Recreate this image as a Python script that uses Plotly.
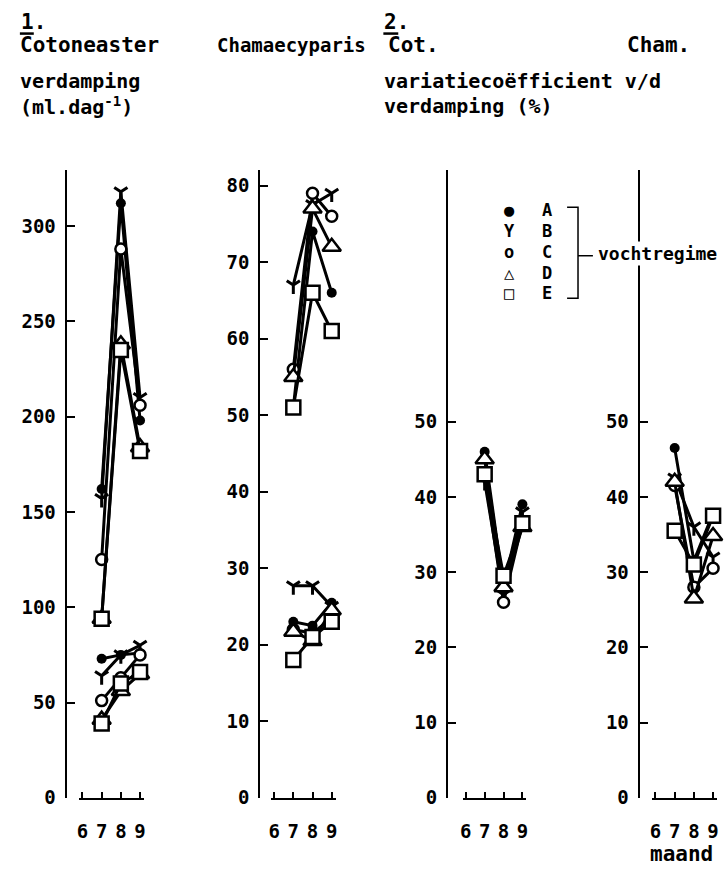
import plotly.graph_objects as go

W, H = 726, 871
months = [7, 8, 9]
series = ["A", "B", "C", "D", "E"]
month_ticks = [6, 7, 8, 9]

# 1. Cotoneaster: verdamping (ml.dag-1), two groups
cot_upper = [[162, 312, 198], [157, 318, 210], [125, 288, 206], [94, 238, 184], [94, 235, 182]]
cot_lower = [[73, 75, 76], [64, 75, 80], [51, 63, 75], [41, 56, 65], [39, 60, 66]]
# 1. Chamaecyparis
cham_upper = [[51, 74, 66], [67, 77.5, 79], [56, 79, 76], [55, 77, 72], [51, 66, 61]]
cham_lower = [[23, 22.5, 25.5], [27.7, 27.7, 25], [22, 21.5, 23.5], [21.7, 20.5, 24.5], [18, 21, 23]]
# 2. variatiecoefficient (%)
cot_cv = [[46, 28, 39], [42, 27, 38], [43, 26, 36.5], [45, 28, 36], [43, 29.5, 36.5]]
cham_cv = [[46.5, 31.5, 37.8], [42.5, 36, 32], [41.5, 28, 30.5], [42, 26.5, 34.8], [35.5, 31, 37.5]]

ticks_cot = [0, 50, 100, 150, 200, 250, 300]
ticks_cham = [0, 10, 20, 30, 40, 50, 60, 70, 80]
ticks_cv = [0, 10, 20, 30, 40, 50]

FONT = "DejaVu Sans Mono"
BLK = "black"

marker_styles = {
    "A": dict(symbol="circle", size=10, color=BLK, line=dict(width=0, color=BLK)),
    "B": dict(symbol="y-down", size=11, color=BLK, line=dict(width=3, color=BLK)),
    "C": dict(symbol="circle", size=11, color="white", line=dict(width=2.5, color=BLK)),
    "D": dict(symbol="triangle-up", size=16, color="white", line=dict(width=2.5, color=BLK)),
    "E": dict(symbol="square", size=14, color="white", line=dict(width=2.5, color=BLK)),
}


def pxx(x):
    return x / W


def pyy(y):
    return 1 - y / H


# panel geometry (pixels): y-axis x, month6 x, month9 x, ref value and its pixel row
panels = [
    dict(yx=63, x6=80, x9=138, ref=300, refpx=229, ticks=ticks_cot, groups=[cot_upper, cot_lower]),
    dict(yx=258, x6=273, x9=331, ref=80, refpx=188, ticks=ticks_cham, groups=[cham_upper, cham_lower]),
    dict(yx=447, x6=466, x9=523, ref=50, refpx=427, ticks=ticks_cv, groups=[cot_cv]),
    dict(yx=640, x6=657, x9=715, ref=50, refpx=427, ticks=ticks_cv, groups=[cham_cv]),
]
Y0PX, YTOP = 808, 172

fig = go.Figure()
layout = {}
for i, p in enumerate(panels, start=1):
    xa = "x" if i == 1 else f"x{i}"
    ya = "y" if i == 1 else f"y{i}"
    b = (p["x9"] - p["x6"]) / 3.0
    dl, dr = p["x6"] - 3, p["x9"] + 4
    xr = [6 - (p["x6"] - dl) / b, 9 + (dr - p["x9"]) / b]
    per = (Y0PX - p["refpx"]) / p["ref"]
    ytop = (Y0PX - YTOP) / per
    for grp in p["groups"]:
        for s, vals in zip(series, grp):
            fig.add_trace(go.Scatter(
                x=months, y=vals, xaxis=xa, yaxis=ya, mode="lines+markers",
                line=dict(color=BLK, width=3), marker=marker_styles[s],
                cliponaxis=False, showlegend=False, hoverinfo="skip"))
    layout[f"xaxis{'' if i == 1 else i}"] = dict(
        domain=[pxx(dl), pxx(dr)], range=xr, anchor=ya,
        showline=True, linecolor=BLK, linewidth=2, ticks="inside", ticklen=6,
        tickwidth=2, tickcolor=BLK, tickvals=month_ticks,
        ticktext=[str(m) for m in month_ticks], showgrid=False, zeroline=False,
        tickfont=dict(family=FONT, size=19, color=BLK, weight="bold"),
        ticklabelstandoff=15)
    layout[f"yaxis{'' if i == 1 else i}"] = dict(
        domain=[pyy(Y0PX), pyy(YTOP)], range=[0, ytop], anchor="free",
        position=pxx(p["yx"]), showline=True, linecolor=BLK, linewidth=2,
        ticks="inside", ticklen=8, tickwidth=2, tickcolor=BLK,
        tickvals=p["ticks"], showgrid=False, zeroline=False,
        tickfont=dict(family=FONT, size=19, color=BLK, weight="bold"),
        ticklabelstandoff=5)

annotations = []


def txt(x, y, t, size=21, xanchor="left", weight="bold", bg=None):
    d = dict(x=pxx(x), y=pyy(y), xref="paper", yref="paper", text=t,
             showarrow=False, xanchor=xanchor, yanchor="middle",
             font=dict(family=FONT, size=size, color=BLK, weight=weight))
    if bg:
        d["bgcolor"] = bg
    annotations.append(d)


txt(16, 22, "1.")
txt(382, 22, "2.")
txt(15, 46, "Cotoneaster")
txt(213, 46, "Chamaecyparis", size=19)
txt(386, 46, "Cot.")
txt(626, 46, "Cham.")
txt(15, 82, "verdamping", size=20)
txt(15, 107, "(ml.dag<sup>-1</sup>)", size=20)
txt(382, 82, "variatiecoëfficient v/d", size=20)
txt(382, 107, "verdamping (%)", size=20)
txt(649, 865, "maand", size=21)

legend_syms = ["●", "Y", "o", "△", "□"]
legend_y = [213, 234, 255, 276, 297]
for sym, lab, yy in zip(legend_syms, series, legend_y):
    txt(510, yy, sym, size=17, xanchor="center")
    txt(548, yy, lab, size=17, xanchor="center")
txt(597, 257, "vochtregime", size=18, bg="white")

shapes = [
    dict(type="line", xref="paper", yref="paper", x0=pxx(17), x1=pxx(31), y0=pyy(34), y1=pyy(34),
         line=dict(color=BLK, width=2.5)),
    dict(type="line", xref="paper", yref="paper", x0=pxx(383), x1=pxx(398), y0=pyy(34), y1=pyy(34),
         line=dict(color=BLK, width=2.5)),
    # bracket
    dict(type="path", xref="paper", yref="paper",
         path=f"M {pxx(568)},{pyy(210)} L {pxx(579)},{pyy(210)} L {pxx(579)},{pyy(302)} L {pxx(568)},{pyy(302)}",
         line=dict(color=BLK, width=1.5)),
    dict(type="line", xref="paper", yref="paper", x0=pxx(579), x1=pxx(594), y0=pyy(259), y1=pyy(259),
         line=dict(color=BLK, width=1.5)),
]

fig.update_layout(
    width=W, height=H, margin=dict(l=0, r=0, t=0, b=0),
    paper_bgcolor="white", plot_bgcolor="white",
    showlegend=False, annotations=annotations, shapes=shapes, **layout)

fig.write_html("out.html")
